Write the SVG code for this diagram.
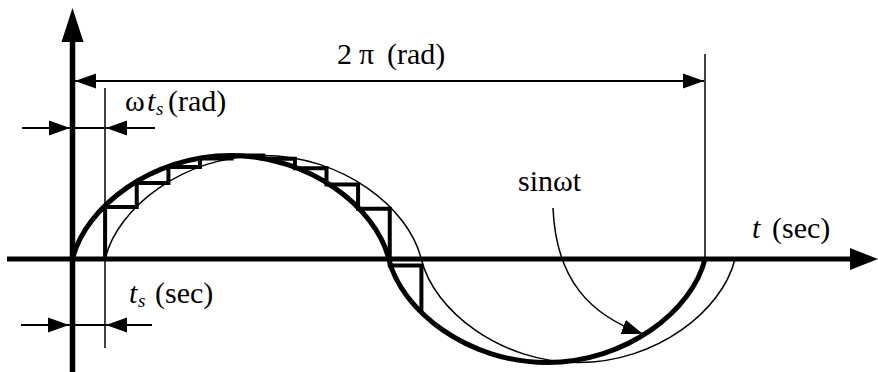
<svg xmlns="http://www.w3.org/2000/svg" width="878" height="372" viewBox="0 0 878 372">
<defs>
<marker id="ah" markerUnits="userSpaceOnUse" viewBox="0 0 22 16" markerWidth="22" markerHeight="16" refX="21" refY="8" orient="auto-start-reverse"><path d="M0,0.5 L21,8 L0,15.5 z" fill="#000"/></marker>
</defs>
<style>
.lbl{font-family:Liberation Serif, serif;font-size:30px;fill:#000}
.it{font-style:italic}
.sub{font-size:19px;font-style:italic}
.thin{fill:none;stroke:#000;stroke-width:1.5}
.dim{fill:none;stroke:#000;stroke-width:2}
.thick{fill:none;stroke:#000;stroke-width:5}
.stair{fill:none;stroke:#000;stroke-width:4;stroke-linejoin:miter}
</style>
<rect width="878" height="372" fill="#fff"/>
<g id="axes">
<line x1="72.5" y1="40" x2="72.5" y2="372" stroke="#000" stroke-width="5.5"/>
<polygon points="72.5,8 61.5,42 83.5,42" fill="#000"/>
<line x1="7" y1="259" x2="852" y2="259" stroke="#000" stroke-width="5"/>
<polygon points="878,259 850,248 850,270" fill="#000"/>
</g>
<g id="guides">
<line x1="105" y1="88" x2="105" y2="348" class="thin"/>
<line x1="705" y1="54" x2="705" y2="259" class="thin"/>
</g>
<g id="connectors">
<line x1="75" y1="81" x2="704" y2="81" class="dim" marker-start="url(#ah)" marker-end="url(#ah)"/>
<line x1="22" y1="128" x2="70" y2="128" class="dim" marker-end="url(#ah)"/>
<line x1="70" y1="128" x2="106" y2="128" class="dim"/>
<line x1="155" y1="128" x2="106" y2="128" class="dim" marker-end="url(#ah)"/>
<line x1="21" y1="325" x2="69" y2="325" class="dim" marker-end="url(#ah)"/>
<line x1="69" y1="325" x2="106" y2="325" class="dim"/>
<line x1="152" y1="325" x2="106" y2="325" class="dim" marker-end="url(#ah)"/>
<path d="M553,208 C556,280 590,315 643,334" class="thin" marker-end="url(#ah)"/>
</g>
<g id="thin-sine">
<path class="thin" d="M105,259 C117.6,207.25 184.1,155.5 263.1,155.5 C342.2,155.5 408.6,207.25 421.25,259 C433.9,310.75 500.3,362.5 578.4,362.5 C656.4,362.5 722.4,310.75 735,259"/>
</g>
<g id="thick-sine">
<path class="thick" d="M72.5,259 C85.1,207.25 151.6,155.5 230.6,155.5 C309.7,155.5 376.1,207.25 388.75,259 C401.4,310.75 467.8,362.5 546.9,362.5 C625.9,362.5 692.35,310.75 705,259"/>
</g>
<g id="staircase">
<path class="stair" d="M105.1,259 V206.9 H136.75 V183.1 H168.4 V167 H200 V158.4 H231.6 V155.5 H263.25 V158.8 H294.9 V168.3 H326.5 V184.4 H358.1 V208.8 H389.75 V265.5 H421.4 V311.1"/>
</g>
<g id="labels">
<text class="lbl" font-family="Liberation Serif" y="64"><tspan x="337">2</tspan><tspan x="359">π</tspan><tspan x="387">(rad)</tspan></text>
<text class="lbl" font-family="Liberation Serif" y="111"><tspan x="125">ω</tspan><tspan x="147" class="it">t</tspan><tspan x="156" y="115" class="sub">s</tspan><tspan x="168" y="111">(rad)</tspan></text>
<text class="lbl" font-family="Liberation Serif" y="303"><tspan x="129" class="it">t</tspan><tspan x="138" y="307" class="sub">s</tspan><tspan x="155" y="303">(sec)</tspan></text>
<text class="lbl" font-family="Liberation Serif" y="238"><tspan x="752" class="it">t</tspan><tspan x="772">(sec)</tspan></text>
<text class="lbl" font-family="Liberation Serif" x="518" y="191">sinωt</text>
</g>
</svg>
